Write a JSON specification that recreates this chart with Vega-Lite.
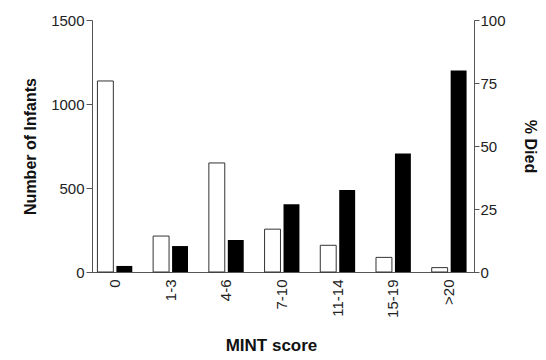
{
  "$schema": "https://vega.github.io/schema/vega-lite/v6.json",
  "width": 390,
  "height": 252,
  "autosize": "none",
  "padding": {"left": 87, "top": 20, "right": 69, "bottom": 88},
  "background": "white",
  "config": {
    "view": {"stroke": null},
    "font": "Liberation Sans",
    "axis": {
      "labelFont": "Liberation Sans",
      "titleFont": "Liberation Sans",
      "labelColor": "#222",
      "titleColor": "#111",
      "domainColor": "#555",
      "tickColor": "#555",
      "grid": false,
      "labelFontSize": 15,
      "titleFontSize": 16,
      "titleFontWeight": "bold"
    }
  },
  "data": {
    "values": [
      {"score": "0", "series": "n", "value": 1137},
      {"score": "1-3", "series": "n", "value": 214},
      {"score": "4-6", "series": "n", "value": 649},
      {"score": "7-10", "series": "n", "value": 255},
      {"score": "11-14", "series": "n", "value": 159},
      {"score": "15-19", "series": "n", "value": 87},
      {"score": ">20", "series": "n", "value": 26},
      {"score": "0", "series": "pct", "value": 2.4},
      {"score": "1-3", "series": "pct", "value": 10.3},
      {"score": "4-6", "series": "pct", "value": 12.7},
      {"score": "7-10", "series": "pct", "value": 26.9},
      {"score": "11-14", "series": "pct", "value": 32.5},
      {"score": "15-19", "series": "pct", "value": 47},
      {"score": ">20", "series": "pct", "value": 80}
    ]
  },
  "encoding": {
    "x": {
      "field": "score",
      "type": "nominal",
      "sort": ["0", "1-3", "4-6", "7-10", "11-14", "15-19", ">20"],
      "scale": {"paddingInner": 0, "paddingOuter": 0},
      "axis": {
        "title": "MINT score",
        "titleFontSize": 17,
        "labelAngle": -90,
        "labelFontSize": 15,
        "ticks": false,
        "labelPadding": 7,
        "titlePadding": 20,
        "titleX": 184
      }
    },
    "xOffset": {
      "field": "series",
      "type": "nominal",
      "sort": ["n", "pct"],
      "scale": {"paddingInner": 0.16, "paddingOuter": 0.55}
    }
  },
  "layer": [
    {
      "transform": [{"filter": "datum.series === 'n'"}],
      "mark": {"type": "bar", "fill": "white", "stroke": "#333", "strokeWidth": 1},
      "encoding": {
        "y": {
          "field": "value",
          "type": "quantitative",
          "scale": {"domain": [0, 1500], "nice": false},
          "axis": {
            "orient": "left",
            "title": "Number of Infants",
            "format": "d",
            "values": [0, 500, 1000, 1500],
            "offset": -5,
            "tickSize": 6,
            "labelPadding": 2,
            "titlePadding": 12
          }
        }
      }
    },
    {
      "transform": [{"filter": "datum.series === 'pct'"}],
      "mark": {"type": "bar", "fill": "black"},
      "encoding": {
        "y": {
          "field": "value",
          "type": "quantitative",
          "scale": {"domain": [0, 100], "nice": false},
          "axis": {
            "orient": "right",
            "title": "% Died",
            "values": [0, 25, 50, 75, 100],
            "offset": -3,
            "tickSize": 5,
            "labelPadding": 1,
            "titlePadding": 16
          }
        }
      }
    }
  ],
  "resolve": {"scale": {"y": "independent"}}
}
